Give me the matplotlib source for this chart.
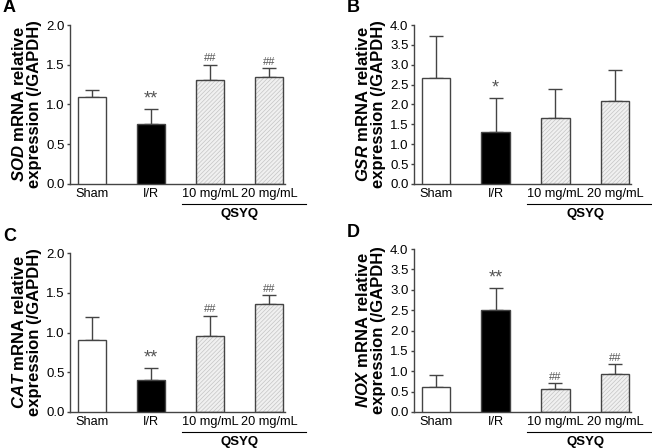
import matplotlib
matplotlib.use('Agg')
import matplotlib.pyplot as plt

plt.rcParams['font.family'] = ['Liberation Sans', 'DejaVu Sans']
plt.rcParams['mathtext.fontset'] = 'custom'
plt.rcParams['mathtext.it'] = 'Liberation Sans:italic:bold'
plt.rcParams['mathtext.rm'] = 'Liberation Sans:bold'
plt.rcParams['hatch.linewidth'] = 0.5

groups = ['Sham', 'I/R', '10 mg/mL', '20 mg/mL']

# mean and upper error bar top, per panel
sod_mean = [1.09, 0.75, 1.31, 1.35]
sod_top = [1.18, 0.94, 1.50, 1.46]
sod_marks = ['', '**', '##', '##']

gsr_mean = [2.67, 1.30, 1.66, 2.08]
gsr_top = [3.73, 2.17, 2.38, 2.88]
gsr_marks = ['', '*', '', '']

cat_mean = [0.90, 0.40, 0.96, 1.36]
cat_top = [1.19, 0.55, 1.21, 1.47]
cat_marks = ['', '**', '##', '##']

nox_mean = [0.62, 2.50, 0.57, 0.94]
nox_top = [0.91, 3.05, 0.71, 1.17]
nox_marks = ['', '**', '##', '##']

panels = [
    ('A', 'SOD', sod_mean, sod_top, sod_marks, 2.0, (70, 285, 25, 184)),
    ('B', 'GSR', gsr_mean, gsr_top, gsr_marks, 4.0, (414, 631, 25, 184)),
    ('C', 'CAT', cat_mean, cat_top, cat_marks, 2.0, (70, 285, 253, 412)),
    ('D', 'NOX', nox_mean, nox_top, nox_marks, 4.0, (414, 631, 249, 412)),
]

W, H = 652, 448
fig = plt.figure(figsize=(W / 100, H / 100), dpi=100)

fills = ['white', 'black', '#f0f0f0', '#f0f0f0']
hatches = [None, None, '////////', '////////']
edge = '#444444'

for letter, gene, mean, top, marks, ymax, (l, r, t, b) in panels:
    ax = fig.add_axes([l / W, 1 - b / H, (r - l) / W, (b - t) / H])
    x = list(range(len(groups)))
    err = [tp - m for tp, m in zip(top, mean)]
    for i in x:
        if hatches[i]:
            ax.bar(i, mean[i], 0.48, color=fills[i], edgecolor='#c4c4c4',
                   hatch=hatches[i], linewidth=0, zorder=2)
            ax.bar(i, mean[i], 0.48, fill=False, edgecolor=edge, linewidth=1, zorder=3)
        else:
            ax.bar(i, mean[i], 0.48, color=fills[i], edgecolor=edge, linewidth=1, zorder=3)
    ax.errorbar(x, mean, yerr=[[0] * 4, err], fmt='none', ecolor=edge,
                elinewidth=1, capsize=5, capthick=1, zorder=1)
    for i, m in enumerate(marks):
        if m:
            fs = 13 if '*' in m else 8
            ax.annotate(m, (i, top[i]), xytext=(0, 1), textcoords='offset points',
                        ha='center', va='bottom', fontsize=fs, color='#555555')

    ax.set_xlim(-0.37, 3.27)
    ax.set_ylim(0, ymax)
    ax.set_yticks([v * 0.5 for v in range(int(ymax / 0.5) + 1)])
    ax.set_yticklabels(['%.1f' % (v * 0.5) for v in range(int(ymax / 0.5) + 1)])
    ax.set_xticks(x)
    ax.set_xticklabels(groups)
    ax.tick_params(axis='x', length=0, pad=3, labelsize=9.2)
    ax.tick_params(axis='y', length=2.5, width=1, color=edge, pad=1.5, labelsize=9.5)
    for s in ['top', 'right']:
        ax.spines[s].set_visible(False)
    for s in ['left', 'bottom']:
        ax.spines[s].set_color(edge)
        ax.spines[s].set_linewidth(1)

    ax.set_ylabel('$\\it{%s}$ mRNA relative\nexpression (/GAPDH)' % gene,
                  fontsize=12, fontweight='bold', linespacing=1.0, labelpad=3)

    # QSYQ bracket under the two treatment groups
    hpx = b - t
    ax.plot([1.53, 3.62], [-20 / hpx, -20 / hpx], color='black', linewidth=0.8,
            transform=ax.get_xaxis_transform(), clip_on=False)
    ax.text(2.5, -29.5 / hpx, 'QSYQ', transform=ax.get_xaxis_transform(), ha='center',
            va='center', fontsize=9.5, fontweight='bold')

    ax.text((l - 67) / W, 1 - (t - 17) / H, letter, transform=fig.transFigure,
            fontsize=13, fontweight='bold', ha='left', va='center')

fig.savefig('out.png', dpi=100)
